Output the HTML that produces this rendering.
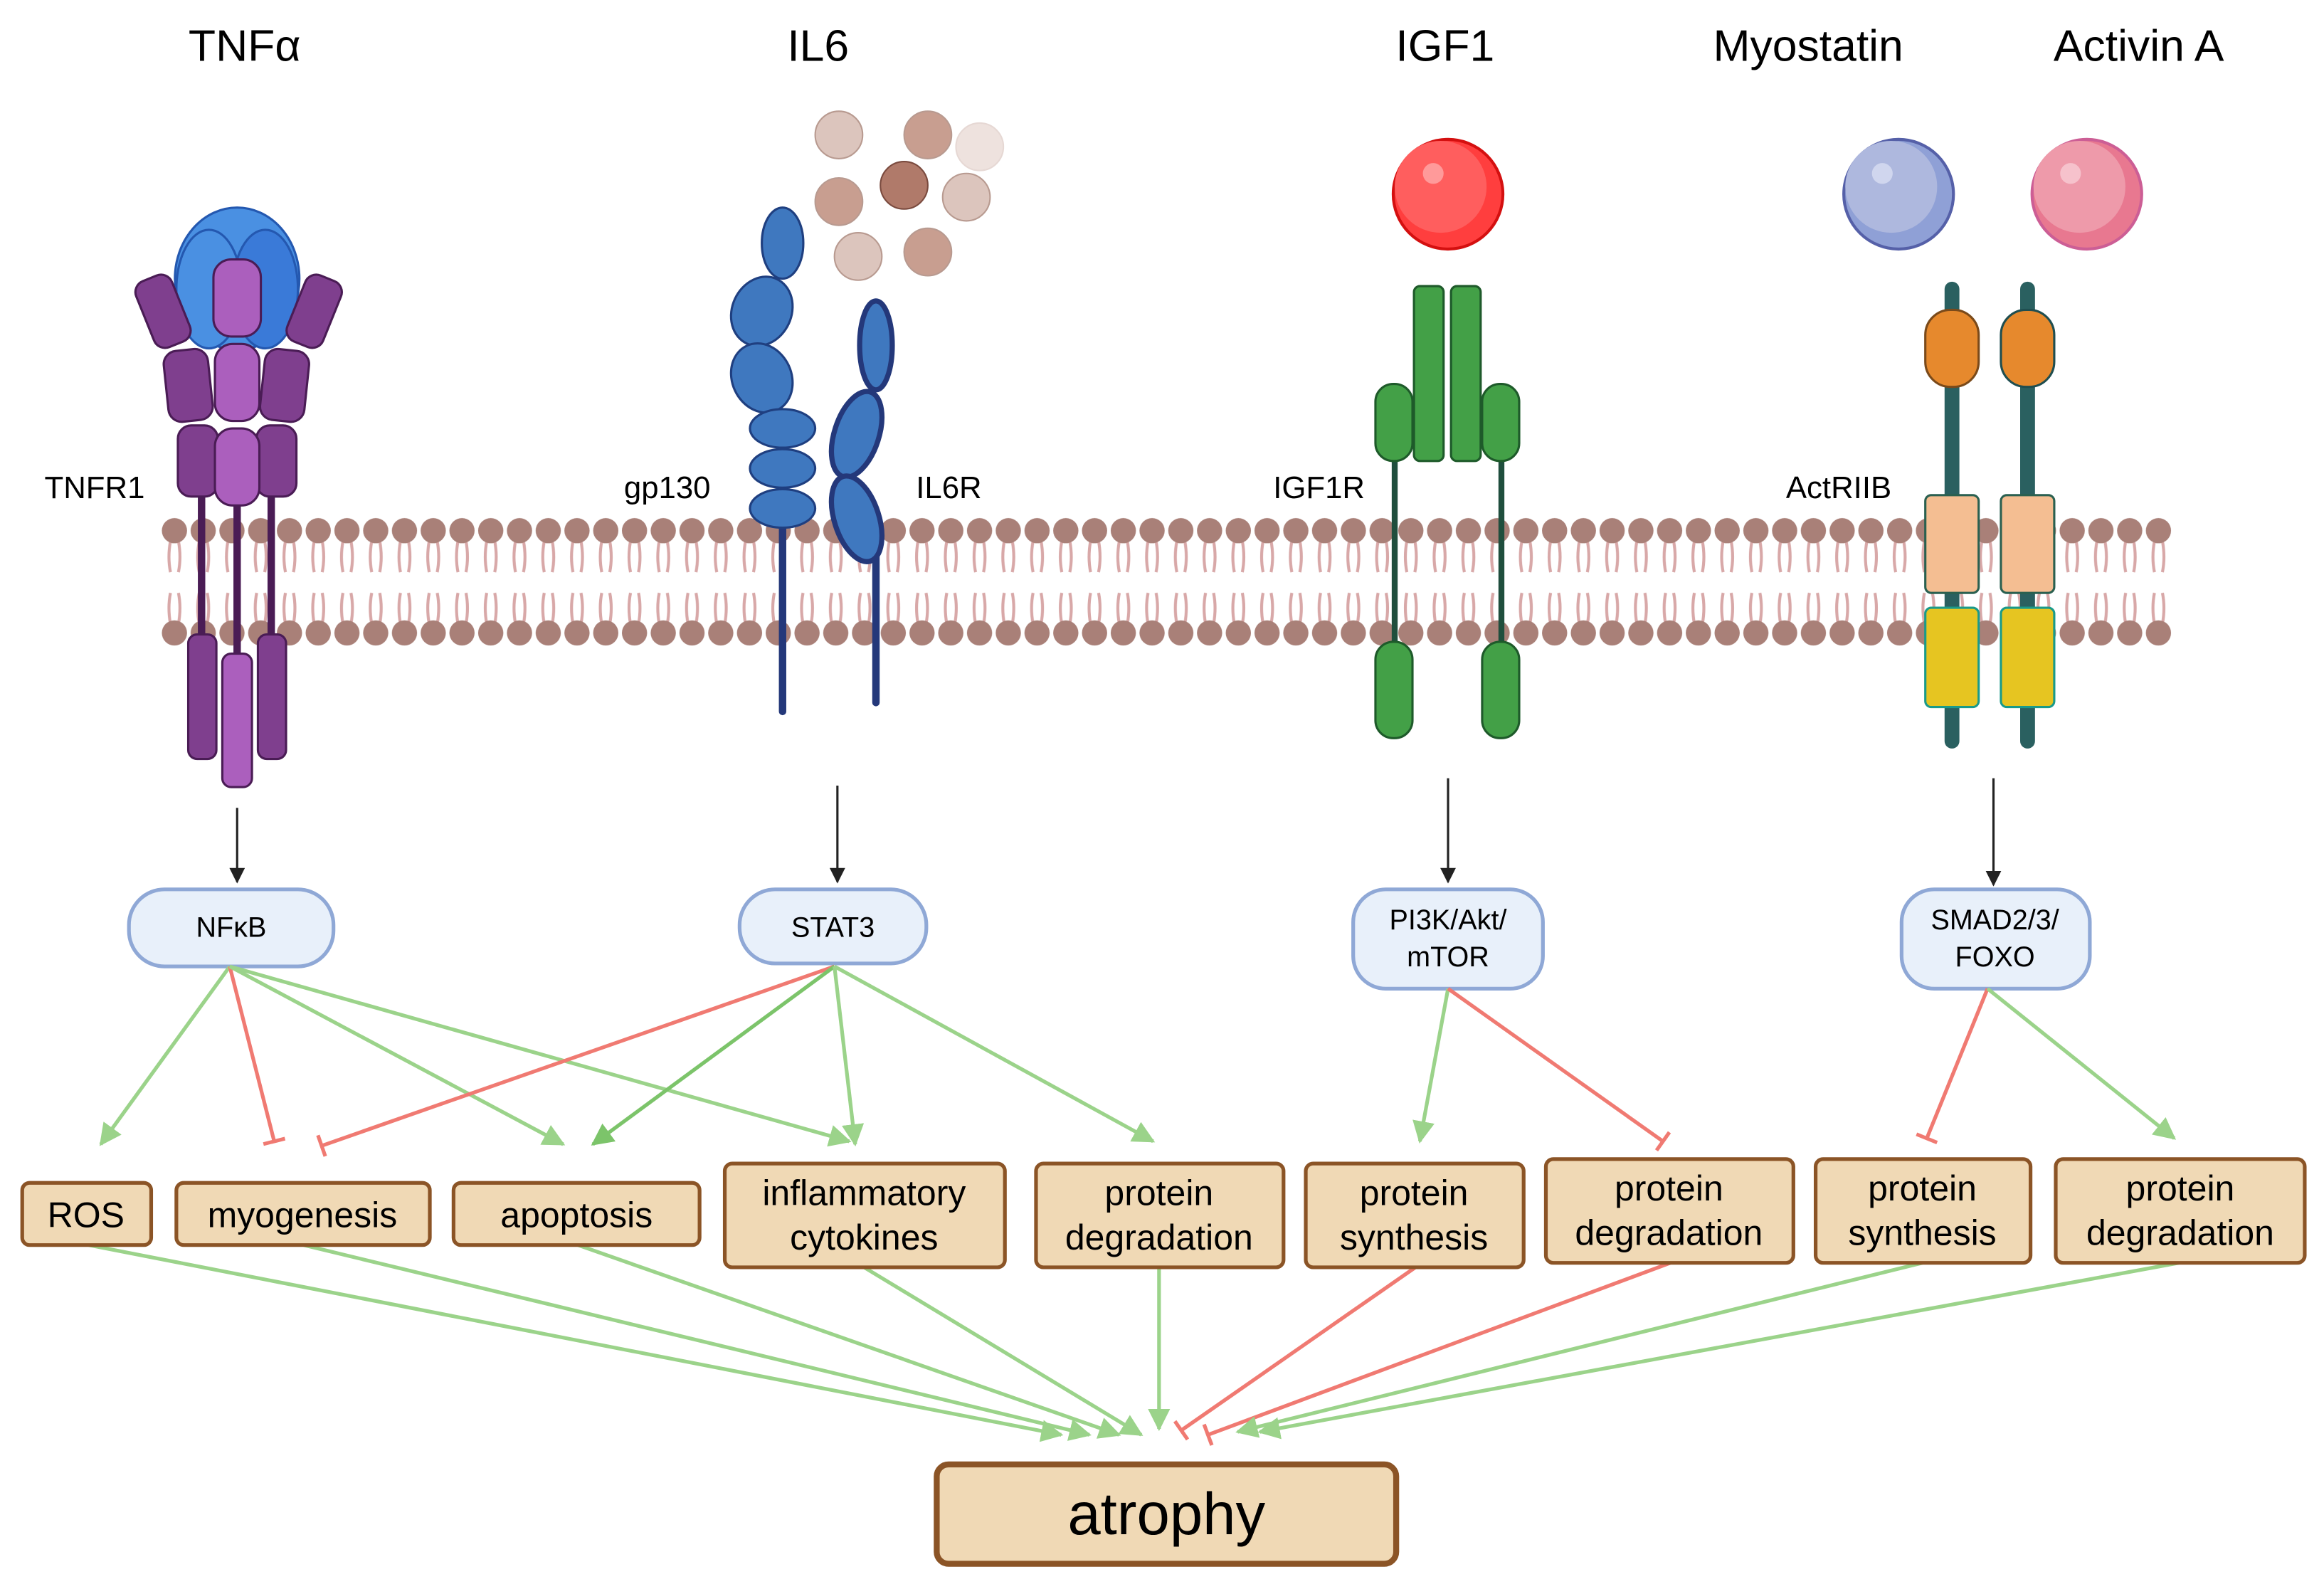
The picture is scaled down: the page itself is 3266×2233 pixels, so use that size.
<!DOCTYPE html>
<html><head><meta charset="utf-8"><style>
html,body{margin:0;padding:0;background:#fff}
svg{display:block}
text{font-family:"Liberation Sans",sans-serif}
</style></head><body>
<svg width="3266" height="2233" viewBox="0 0 1568 1072" xmlns="http://www.w3.org/2000/svg">
<defs>
<marker id="ab" viewBox="0 0 10 10" refX="9" refY="5" markerWidth="7" markerHeight="7" orient="auto" markerUnits="strokeWidth"><path d="M0,0L10,5L0,10z" fill="#222"/></marker>
<marker id="ag" viewBox="0 0 10 10" refX="9" refY="5" markerWidth="6" markerHeight="6" orient="auto" markerUnits="strokeWidth"><path d="M0,0L10,5L0,10z" fill="#9bd38a"/></marker>
<marker id="ag2" viewBox="0 0 10 10" refX="9" refY="5" markerWidth="6" markerHeight="6" orient="auto" markerUnits="strokeWidth"><path d="M0,0L10,5L0,10z" fill="#7cc46a"/></marker>
<marker id="tr" viewBox="0 0 4 12" refX="2" refY="6" markerWidth="2" markerHeight="6.5" orient="auto" markerUnits="strokeWidth"><path d="M2,0V12" stroke="#f07a72" stroke-width="2"/></marker>
<pattern id="mem" x="108" y="348" width="19.4" height="90" patternUnits="userSpaceOnUse">
<path d="M7,17 Q5,28 7,38 M12.4,17 Q14.4,28 12.4,38 M7,52 Q5,62 7,73 M12.4,52 Q14.4,62 12.4,73" stroke="#d8a8a8" stroke-width="2" fill="none"/>
<circle cx="9.7" cy="10" r="8.5" fill="#a98078"/>
<circle cx="9.7" cy="79" r="8.5" fill="#a98078"/>
</pattern>
</defs>

<g font-size="30" text-anchor="middle" fill="#000">
<text x="165" y="41">TNFα</text>
<text x="552" y="41">IL6</text>
<text x="975" y="41">IGF1</text>
<text x="1220" y="41">Myostatin</text>
<text x="1443" y="41">Activin A</text>
</g>

<rect x="108" y="348" width="1358" height="90" fill="url(#mem)"/>

<!-- TNFR1 -->
<g stroke="#4a1c55" stroke-width="1.5">
<ellipse cx="160" cy="188" rx="42" ry="48" fill="#4a90e2" stroke="#2458b0"/>
<ellipse cx="141" cy="195" rx="22" ry="40" fill="#4a90e2" stroke="#2458b0"/>
<ellipse cx="179" cy="195" rx="22" ry="40" fill="#3a7ad8" stroke="#2458b0"/>
<line x1="136" y1="330" x2="136" y2="432" stroke="#4a1c55" stroke-width="5"/>
<line x1="183" y1="330" x2="183" y2="432" stroke="#4a1c55" stroke-width="5"/>
<line x1="160" y1="330" x2="160" y2="445" stroke="#4a1c55" stroke-width="5"/>
<rect x="97" y="186" width="26" height="48" rx="8" fill="#7f3f8e" transform="rotate(-22 110 210)"/>
<rect x="199" y="186" width="26" height="48" rx="8" fill="#7f3f8e" transform="rotate(22 212 210)"/>
<rect x="112" y="236" width="30" height="48" rx="9" fill="#7f3f8e" transform="rotate(-6 127 260)"/>
<rect x="177" y="236" width="30" height="48" rx="9" fill="#7f3f8e" transform="rotate(6 192 260)"/>
<rect x="120" y="287" width="27" height="48" rx="9" fill="#7f3f8e"/>
<rect x="173" y="287" width="27" height="48" rx="9" fill="#7f3f8e"/>
<rect x="144" y="175" width="32" height="52" rx="12" fill="#ab5fbd"/>
<rect x="145" y="232" width="30" height="52" rx="12" fill="#ab5fbd"/>
<rect x="145" y="289" width="30" height="52" rx="12" fill="#ab5fbd"/>
<rect x="127" y="428" width="19" height="84" rx="6" fill="#7f3f8e"/>
<rect x="174" y="428" width="19" height="84" rx="6" fill="#7f3f8e"/>
<rect x="150" y="441" width="20" height="90" rx="6" fill="#ab5fbd"/>
</g>

<g stroke="#b89a90" stroke-width="1">
<circle cx="566" cy="91" r="16" fill="#dcc5bd"/>
<circle cx="626" cy="91" r="16" fill="#c89e90"/>
<circle cx="661" cy="99" r="16" fill="#eee2de" stroke="#e6d8d4"/>
<circle cx="566" cy="136" r="16" fill="#c89e90"/>
<circle cx="610" cy="125" r="16" fill="#b07a6a" stroke="#7a4a3e"/>
<circle cx="652" cy="133" r="16" fill="#dcc5bd"/>
<circle cx="579" cy="173" r="16" fill="#dcc5bd"/>
<circle cx="626" cy="170" r="16" fill="#c89e90"/>
</g>

<g fill="#3f78bf" stroke="#1f3f80" stroke-width="1.5">
<line x1="528" y1="345" x2="528" y2="480" stroke="#24387a" stroke-width="5" stroke-linecap="round"/>
<ellipse cx="528" cy="164" rx="14" ry="24"/>
<ellipse cx="514" cy="210" rx="20" ry="24" transform="rotate(25 514 210)"/>
<ellipse cx="514" cy="255" rx="20" ry="24" transform="rotate(-25 514 255)"/>
<ellipse cx="528" cy="289" rx="22" ry="13"/>
<ellipse cx="528" cy="316" rx="22" ry="13"/>
<ellipse cx="528" cy="343" rx="22" ry="13"/>
</g>
<g fill="#3f78bf" stroke="#24387a" stroke-width="3.5">
<line x1="591" y1="370" x2="591" y2="474" stroke-width="5" stroke-linecap="round"/>
<ellipse cx="591" cy="233" rx="11" ry="30"/>
<ellipse cx="578" cy="293" rx="15" ry="30" transform="rotate(18 578 293)"/>
<ellipse cx="578" cy="350" rx="15" ry="30" transform="rotate(-18 578 350)"/>
</g>

<circle cx="977" cy="131" r="37" fill="#ff3e3e" stroke="#d41010" stroke-width="2"/>
<circle cx="972" cy="126" r="31" fill="#ff5e5e"/>
<circle cx="967" cy="117" r="7" fill="#ff9a9a"/>
<g fill="#43a047" stroke="#1e5a2a" stroke-width="1.5">
<line x1="941" y1="305" x2="941" y2="440" stroke="#1f4e3d" stroke-width="4"/>
<line x1="1013" y1="305" x2="1013" y2="440" stroke="#1f4e3d" stroke-width="4"/>
<rect x="954" y="193" width="20" height="118" rx="4"/>
<rect x="979" y="193" width="20" height="118" rx="4"/>
<rect x="928" y="259" width="25" height="52" rx="12"/>
<rect x="1000" y="259" width="25" height="52" rx="12"/>
<rect x="928" y="433" width="25" height="65" rx="12"/>
<rect x="1000" y="433" width="25" height="65" rx="12"/>
</g>

<circle cx="1281" cy="131" r="37" fill="#8fa0d6" stroke="#5560a8" stroke-width="2"/>
<circle cx="1276" cy="126" r="31" fill="#aeb8de"/>
<circle cx="1270" cy="117" r="7" fill="#d0d6ee"/>
<circle cx="1408" cy="131" r="37" fill="#e87890" stroke="#cc5e95" stroke-width="2"/>
<circle cx="1403" cy="126" r="31" fill="#ee9aaa"/>
<circle cx="1397" cy="117" r="7" fill="#f6c2cc"/>
<g stroke-width="1.5">
<line x1="1317" y1="195" x2="1317" y2="500" stroke="#2a6060" stroke-width="10" stroke-linecap="round"/>
<line x1="1368" y1="195" x2="1368" y2="500" stroke="#2a6060" stroke-width="10" stroke-linecap="round"/>
<rect x="1299" y="209" width="36" height="52" rx="17" fill="#e6892d" stroke="#7a4a1a"/>
<rect x="1350" y="209" width="36" height="52" rx="17" fill="#e6892d" stroke="#1f4e50"/>
<rect x="1299" y="334" width="36" height="66" rx="4" fill="#f4be92" stroke="#2a6050"/>
<rect x="1350" y="334" width="36" height="66" rx="4" fill="#f4be92" stroke="#2a6050"/>
<rect x="1299" y="410" width="36" height="67" rx="4" fill="#e6c521" stroke="#1a9a8a"/>
<rect x="1350" y="410" width="36" height="67" rx="4" fill="#e6c521" stroke="#1a9a8a"/>
</g>

<g font-size="21" fill="#000">
<text x="30" y="336">TNFR1</text>
<text x="421" y="336">gp130</text>
<text x="618" y="336">IL6R</text>
<text x="859" y="336">IGF1R</text>
<text x="1205" y="336">ActRIIB</text>
</g>

<g stroke="#222" stroke-width="1.5" marker-end="url(#ab)">
<line x1="160" y1="545" x2="160" y2="595"/>
<line x1="565" y1="530" x2="565" y2="595"/>
<line x1="977" y1="525" x2="977" y2="595"/>
<line x1="1345" y1="525" x2="1345" y2="597"/>
</g>

<g fill="#e8f0fa" stroke="#8fa8d6" stroke-width="2.5">
<rect x="87" y="600" width="138" height="52" rx="24"/>
<rect x="499" y="600" width="126" height="50" rx="24"/>
<rect x="913" y="600" width="128" height="67" rx="22"/>
<rect x="1283" y="600" width="127" height="67" rx="22"/>
</g>
<g font-size="19" text-anchor="middle" fill="#000">
<text x="156" y="632">NFκB</text>
<text x="562" y="632">STAT3</text>
<text x="977" y="627">PI3K/Akt/</text>
<text x="977" y="652">mTOR</text>
<text x="1346" y="627">SMAD2/3/</text>
<text x="1346" y="652">FOXO</text>
</g>

<g stroke-width="2.5" fill="none">
<line x1="155" y1="652" x2="68" y2="772" stroke="#9bd38a" marker-end="url(#ag)"/>
<line x1="155" y1="652" x2="185" y2="770" stroke="#f07a72" marker-end="url(#tr)"/>
<line x1="155" y1="652" x2="380" y2="772" stroke="#9bd38a" marker-end="url(#ag)"/>
<line x1="155" y1="652" x2="573" y2="770" stroke="#9bd38a" marker-end="url(#ag)"/>
<line x1="563" y1="652" x2="217" y2="773" stroke="#f07a72" marker-end="url(#tr)"/>
<line x1="563" y1="652" x2="400" y2="772" stroke="#7cc46a" marker-end="url(#ag2)"/>
<line x1="563" y1="652" x2="577" y2="772" stroke="#9bd38a" marker-end="url(#ag)"/>
<line x1="563" y1="652" x2="778" y2="770" stroke="#9bd38a" marker-end="url(#ag)"/>
<line x1="977" y1="667" x2="958" y2="770" stroke="#9bd38a" marker-end="url(#ag)"/>
<line x1="977" y1="667" x2="1122" y2="770" stroke="#f07a72" marker-end="url(#tr)"/>
<line x1="1341" y1="667" x2="1300" y2="768" stroke="#f07a72" marker-end="url(#tr)"/>
<line x1="1341" y1="667" x2="1467" y2="768" stroke="#9bd38a" marker-end="url(#ag)"/>
</g>

<g stroke-width="2.5" fill="none">
<line x1="60" y1="840" x2="716" y2="968" stroke="#9bd38a" marker-end="url(#ag)"/>
<line x1="205" y1="840" x2="735" y2="968" stroke="#9bd38a" marker-end="url(#ag)"/>
<line x1="390" y1="840" x2="755" y2="968" stroke="#9bd38a" marker-end="url(#ag)"/>
<line x1="583" y1="855" x2="770" y2="968" stroke="#9bd38a" marker-end="url(#ag)"/>
<line x1="782" y1="855" x2="782" y2="964" stroke="#9bd38a" marker-end="url(#ag)"/>
<line x1="955" y1="855" x2="797" y2="965" stroke="#f07a72" marker-end="url(#tr)"/>
<line x1="1127" y1="852" x2="815" y2="968" stroke="#f07a72" marker-end="url(#tr)"/>
<line x1="1297" y1="852" x2="835" y2="966" stroke="#9bd38a" marker-end="url(#ag)"/>
<line x1="1470" y1="852" x2="850" y2="966" stroke="#9bd38a" marker-end="url(#ag)"/>
</g>

<g fill="#f0d9b5" stroke="#8b5426" stroke-width="2.5">
<rect x="15" y="798" width="87" height="42" rx="5"/>
<rect x="119" y="798" width="171" height="42" rx="5"/>
<rect x="306" y="798" width="166" height="42" rx="5"/>
<rect x="489" y="785" width="189" height="70" rx="5"/>
<rect x="699" y="785" width="167" height="70" rx="5"/>
<rect x="881" y="785" width="147" height="70" rx="5"/>
<rect x="1043" y="782" width="167" height="70" rx="5"/>
<rect x="1225" y="782" width="145" height="70" rx="5"/>
<rect x="1387" y="782" width="168" height="70" rx="5"/>
<rect x="632" y="988" width="310" height="67" rx="8" stroke-width="4"/>
</g>
<g font-size="24" text-anchor="middle" fill="#000">
<text x="58" y="828">ROS</text>
<text x="204" y="828">myogenesis</text>
<text x="389" y="828">apoptosis</text>
<text x="583" y="813">inflammatory</text>
<text x="583" y="843">cytokines</text>
<text x="782" y="813">protein</text>
<text x="782" y="843">degradation</text>
<text x="954" y="813">protein</text>
<text x="954" y="843">synthesis</text>
<text x="1126" y="810">protein</text>
<text x="1126" y="840">degradation</text>
<text x="1297" y="810">protein</text>
<text x="1297" y="840">synthesis</text>
<text x="1471" y="810">protein</text>
<text x="1471" y="840">degradation</text>
<text x="787" y="1035" font-size="40">atrophy</text>
</g>
</svg>
</body></html>
